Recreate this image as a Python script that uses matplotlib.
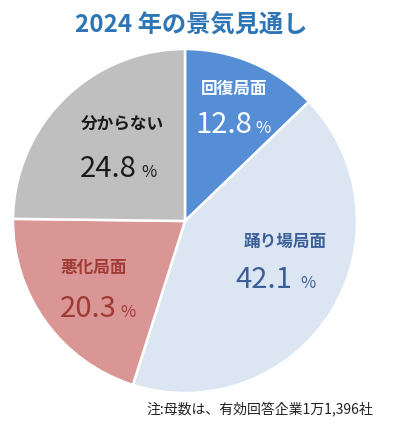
import matplotlib
matplotlib.use("Agg")
import matplotlib.pyplot as plt

plt.rcParams['font.family'] = ['Noto Sans CJK JP', 'DejaVu Sans']

categories = ["回復局面", "踊り場局面", "悪化局面", "分からない"]
values = [12.8, 42.1, 20.3, 24.8]
colors = ["#558ED5", "#DCE6F2", "#D99694", "#BFBFBF"]
label_colors = ["#FFFFFF", "#3B5F99", "#A03A36", "#1A1A1A"]
title = "2024 年の景気見通し"
note = "注:母数は、有効回答企業1万1,396社"

W, H = 396, 441
fig = plt.figure(figsize=(W / 100, H / 100), dpi=100)

def fx(x):
    return x / W

def fy(y):
    return 1 - y / H

# pie axes: center (185, 221), radius 172 px
cx, cy, r = 185, 221, 172
ax = fig.add_axes([fx(cx - r), fy(cy + r), 2 * r / W, 2 * r / H])
ax.pie(values, colors=colors, startangle=90, counterclock=False,
       wedgeprops=dict(edgecolor="white", linewidth=1.8))
ax.set_xlim(-1.0, 1.0)
ax.set_ylim(-1.0, 1.0)
ax.set_aspect("equal")
ax.axis("off")

fig.text(fx(191), fy(25), title, ha="center", va="center",
         fontsize=17.5, fontweight="bold", color="#2E75B6")

# label positions (pixels): label center, number right edge, % left edge, baseline
label_pos = [(234, 89), (285, 242), (94, 268), (122, 125)]
num_pos = [(252, 255, 133), (292, 300, 288), (117, 120, 317), (137, 141, 177)]

for cat, val, col, (lx, ly), (nx, px, by) in zip(categories, values, label_colors, label_pos, num_pos):
    fig.text(fx(lx), fy(ly), cat, ha="center", va="center",
             fontsize=12, fontweight="bold", color=col)
    fig.text(fx(nx), fy(by), f"{val:.1f}", ha="right", va="baseline",
             fontsize=21, color=col)
    fig.text(fx(px), fy(by), "%", ha="left", va="baseline",
             fontsize=12, color=col)

fig.text(fx(373), fy(410), note, ha="right", va="center",
         fontsize=10, color="#222222")

fig.savefig("out.png", dpi=100)
